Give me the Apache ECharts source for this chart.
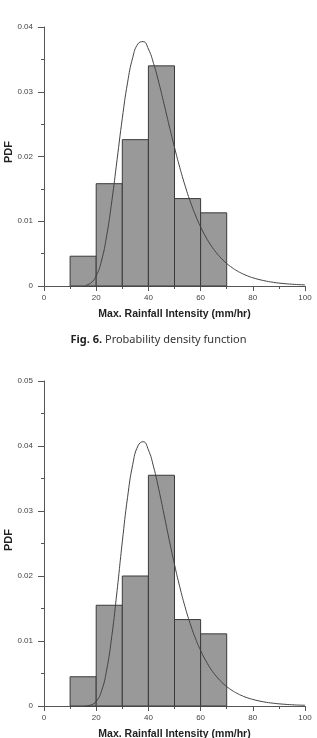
<!DOCTYPE html>
<html>
<head>
<meta charset="utf-8">
<script src="https://cdn.jsdelivr.net/npm/echarts@6/dist/echarts.min.js"></script>
<style>
  html, body { margin: 0; padding: 0; background: #fff; }
  #chart { width: 317px; height: 738px; }
</style>
</head>
<body>
<div id="chart"></div>
<script>
// histogram bins (mm/hr), same for both panels
const binStarts = [10, 20, 30, 40, 50, 60]
const binWidth = 10
const topDensity = [0.0046, 0.0158, 0.0226, 0.0340, 0.0135, 0.0113]
const bottomDensity = [0.0045, 0.0155, 0.0200, 0.0355, 0.0133, 0.0111]

// fitted pdf curves
const curveX = [16, 18, 20, 22, 24, 26, 28, 30, 32, 34, 36, 38, 40, 42, 44, 46, 48, 50, 52, 54, 56, 58, 60,
  62, 64, 66, 68, 70, 72, 74, 76, 78, 80, 84, 88, 92, 96, 100]
const topCurve = [0.00011, 0.00049, 0.00156, 0.00385, 0.00773, 0.01315, 0.01951, 0.02589, 0.03137, 0.03529,
  0.03740, 0.03774, 0.03660, 0.03435, 0.03140, 0.02809, 0.02470, 0.02141, 0.01833, 0.01556, 0.01310, 0.01097,
  0.00913, 0.00757, 0.00626, 0.00516, 0.00424, 0.00348, 0.00285, 0.00233, 0.00191, 0.00156, 0.00127,
  0.00085, 0.00056, 0.00037, 0.00025, 0.00017]
const bottomCurve = [0.00002, 0.00016, 0.00070, 0.00226, 0.00552, 0.01082, 0.01774, 0.02526, 0.03206, 0.03716,
  0.04002, 0.04066, 0.03940, 0.03678, 0.03330, 0.02943, 0.02551, 0.02177, 0.01835, 0.01532, 0.01268, 0.01043,
  0.00854, 0.00696, 0.00565, 0.00458, 0.00370, 0.00299, 0.00241, 0.00194, 0.00156, 0.00125, 0.00101,
  0.00065, 0.00042, 0.00027, 0.00017, 0.00011]

const xTitle = 'Max. Rainfall Intensity (mm/hr)'
const yTitle = 'PDF'
const caption = 'Probability density function'
const captionLabel = 'Fig. 6.'
const yMax = [0.04, 0.05]

const axisColor = '#555'
const labelColor = '#444'

function histData(dens) {
  return binStarts.map((s, i) => [s, s + binWidth, dens[i]])
}

function curveData(ys) {
  return curveX.map((x, i) => [x, ys[i]])
}

// draw one histogram bar as a rect using the axis scales
function renderBin(params, api) {
  const p0 = api.coord([api.value(0), api.value(2)])
  const p1 = api.coord([api.value(1), 0])
  return {
    type: 'rect',
    shape: { x: p0[0], y: p0[1], width: p1[0] - p0[0], height: p1[1] - p0[1] },
    style: { fill: '#999999', stroke: '#3a3a3a', lineWidth: 1 },
  }
}

function makeXAxis(idx) {
  return {
    type: 'value',
    gridIndex: idx,
    min: 0,
    max: 100,
    interval: 20,
    name: xTitle,
    nameLocation: 'middle',
    nameGap: 23,
    nameTextStyle: { fontFamily: 'Liberation Sans', fontWeight: 'bold', fontSize: 10.5, color: '#222' },
    axisLine: { lineStyle: { color: axisColor, width: 1 } },
    axisTick: { length: 5, lineStyle: { color: axisColor } },
    minorTick: { show: true, splitNumber: 2, length: 3, lineStyle: { color: axisColor } },
    axisLabel: { fontFamily: 'Liberation Sans', fontSize: 8, color: labelColor, margin: 8 },
    splitLine: { show: false },
  }
}

function makeYAxis(idx) {
  return {
    type: 'value',
    gridIndex: idx,
    min: 0,
    max: yMax[idx],
    interval: 0.01,
    axisLine: { show: true, lineStyle: { color: axisColor, width: 1 } },
    axisTick: { show: true, length: 6, lineStyle: { color: axisColor } },
    minorTick: { show: true, splitNumber: 2, length: 3, lineStyle: { color: axisColor } },
    axisLabel: {
      fontFamily: 'Liberation Sans', fontSize: 8, color: labelColor, margin: 11,
      formatter: v => (v === 0 ? '0' : v.toFixed(2)),
    },
    splitLine: { show: false },
  }
}

// rotated y-axis title placed next to each panel
function yTitleText(cy) {
  return {
    type: 'text',
    x: 9,
    y: cy,
    rotation: Math.PI / 2,
    style: {
      text: yTitle,
      fontFamily: 'Liberation Sans',
      fontWeight: 'bold',
      fontSize: 11,
      fill: '#222',
      align: 'center',
      verticalAlign: 'middle',
    },
  }
}

const chart = echarts.init(document.getElementById('chart'))

chart.setOption({
  animation: false,
  backgroundColor: '#fff',
  grid: [
    { left: 44, top: 27, width: 261, height: 259, outerBoundsMode: 'none', containLabel: false },
    { left: 44, top: 381, width: 261, height: 325, outerBoundsMode: 'none', containLabel: false },
  ],
  xAxis: [makeXAxis(0), makeXAxis(1)],
  yAxis: [makeYAxis(0), makeYAxis(1)],
  graphic: [
    yTitleText(152),
    yTitleText(540),
    {
      type: 'text',
      left: 'center',
      top: 334,
      style: {
        text: '{b|' + captionLabel + '} ' + caption,
        rich: {
          b: { fontFamily: 'Noto Sans', fontWeight: 'bold', fontSize: 11, fill: '#222' },
        },
        fontFamily: 'Noto Sans',
        fontSize: 11,
        fill: '#333',
      },
    },
  ],
  series: [
    {
      type: 'custom',
      xAxisIndex: 0,
      yAxisIndex: 0,
      renderItem: renderBin,
      data: histData(topDensity),
      z: 1,
    },
    {
      type: 'line',
      xAxisIndex: 0,
      yAxisIndex: 0,
      data: curveData(topCurve),
      smooth: true,
      showSymbol: false,
      lineStyle: { color: '#444', width: 1 },
      z: 3,
    },
    {
      type: 'custom',
      xAxisIndex: 1,
      yAxisIndex: 1,
      renderItem: renderBin,
      data: histData(bottomDensity),
      z: 1,
    },
    {
      type: 'line',
      xAxisIndex: 1,
      yAxisIndex: 1,
      data: curveData(bottomCurve),
      smooth: true,
      showSymbol: false,
      lineStyle: { color: '#444', width: 1 },
      z: 3,
    },
  ],
})

window.addEventListener('resize', () => chart.resize())
</script>
</body>
</html>
